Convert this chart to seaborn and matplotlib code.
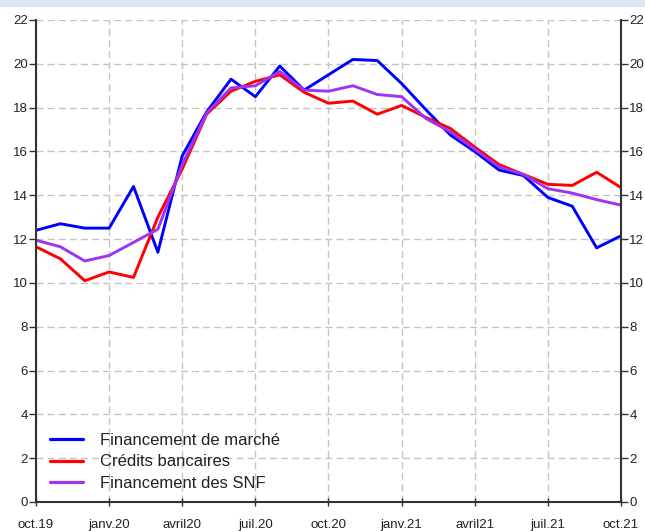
import matplotlib
matplotlib.use("Agg")
import matplotlib.pyplot as plt
import numpy as np
import pandas as pd
import seaborn as sns

# monthly values, oct.19 -> oct.21
months = list(range(25))
marche = [12.4, 12.7, 12.5, 12.5, 14.4, 11.4, 15.8, 17.8, 19.3, 18.5, 19.9, 18.8, 19.5,
          20.2, 20.15, 19.1, 17.9, 16.75, 16.0, 15.15, 14.9, 13.9, 13.5, 11.6, 12.15]
credits = [11.65, 11.1, 10.1, 10.5, 10.25, 13.0, 15.2, 17.7, 18.75, 19.2, 19.5, 18.7, 18.2,
           18.3, 17.7, 18.1, 17.55, 17.05, 16.2, 15.4, 14.95, 14.5, 14.45, 15.05, 14.35]
snf = [11.95, 11.65, 11.0, 11.25, 11.85, 12.45, 15.4, 17.75, 18.9, 19.0, 19.65, 18.8, 18.75,
       19.0, 18.6, 18.5, 17.5, 16.9, 16.1, 15.3, 14.95, 14.3, 14.1, 13.8, 13.55]
series_names = ["Financement de marché", "Crédits bancaires", "Financement des SNF"]
tick_pos = [0, 3, 6, 9, 12, 15, 18, 21, 24]
tick_labels = ["oct.19", "janv.20", "avril20", "juil.20", "oct.20",
               "janv.21", "avril21", "juil.21", "oct.21"]

df = pd.DataFrame({
    "mois": months * 3,
    "valeur": marche + credits + snf,
    "serie": [series_names[0]] * 25 + [series_names[1]] * 25 + [series_names[2]] * 25,
})

sns.set_theme(style="white")
plt.rcParams["font.family"] = ["Liberation Sans", "DejaVu Sans"]

fig = plt.figure(figsize=(6.45, 5.31), dpi=100)
ax = fig.add_axes([36 / 645, 29 / 531, 585 / 645, 482 / 531])

# light blue strip at the top of the image
fig.patches.append(plt.Rectangle((0, 1 - 6 / 531), 1, 6 / 531, transform=fig.transFigure,
                                 color="#dce6f2", zorder=0))

palette = {series_names[0]: "#0000ff", series_names[1]: "#ff0000", series_names[2]: "#a033f0"}
sns.lineplot(data=df, x="mois", y="valeur", hue="serie", palette=palette,
             linewidth=2.1, ax=ax, legend=True)

ax.set_xlim(0, 24)
ax.set_ylim(0, 22)
ax.set_xticks(tick_pos)
ax.set_xticklabels(tick_labels)
ax.set_yticks(np.arange(0, 23, 2))
ax.set_xlabel("")
ax.set_ylabel("")

ax.grid(True, color="#c4c4c4", linestyle=(0, (5, 3)), linewidth=1.0)
ax.set_axisbelow(True)

for side in ["left", "right", "bottom"]:
    ax.spines[side].set_color("#333333")
    ax.spines[side].set_linewidth(1.5)
ax.spines["top"].set_visible(False)

ax.tick_params(axis="y", left=True, right=True, labelleft=True, labelright=True,
               direction="out", length=5, width=1, color="#333333",
               labelsize=9.5, pad=1, labelcolor="#222222")
ax.tick_params(axis="x", bottom=True, direction="inout", length=6, width=1,
               color="#333333", labelsize=9.5, pad=9, labelcolor="#222222")

leg = ax.legend(loc="lower left", bbox_to_anchor=(14 / 585, 11 / 482), frameon=False,
                fontsize=12, handlelength=2.0, handletextpad=1.0,
                labelspacing=0.40, borderaxespad=0.0, borderpad=0.0)
for line in leg.get_lines():
    line.set_linewidth(2.3)
for t in leg.get_texts():
    t.set_color("#222222")

fig.savefig("out.png", dpi=100)
